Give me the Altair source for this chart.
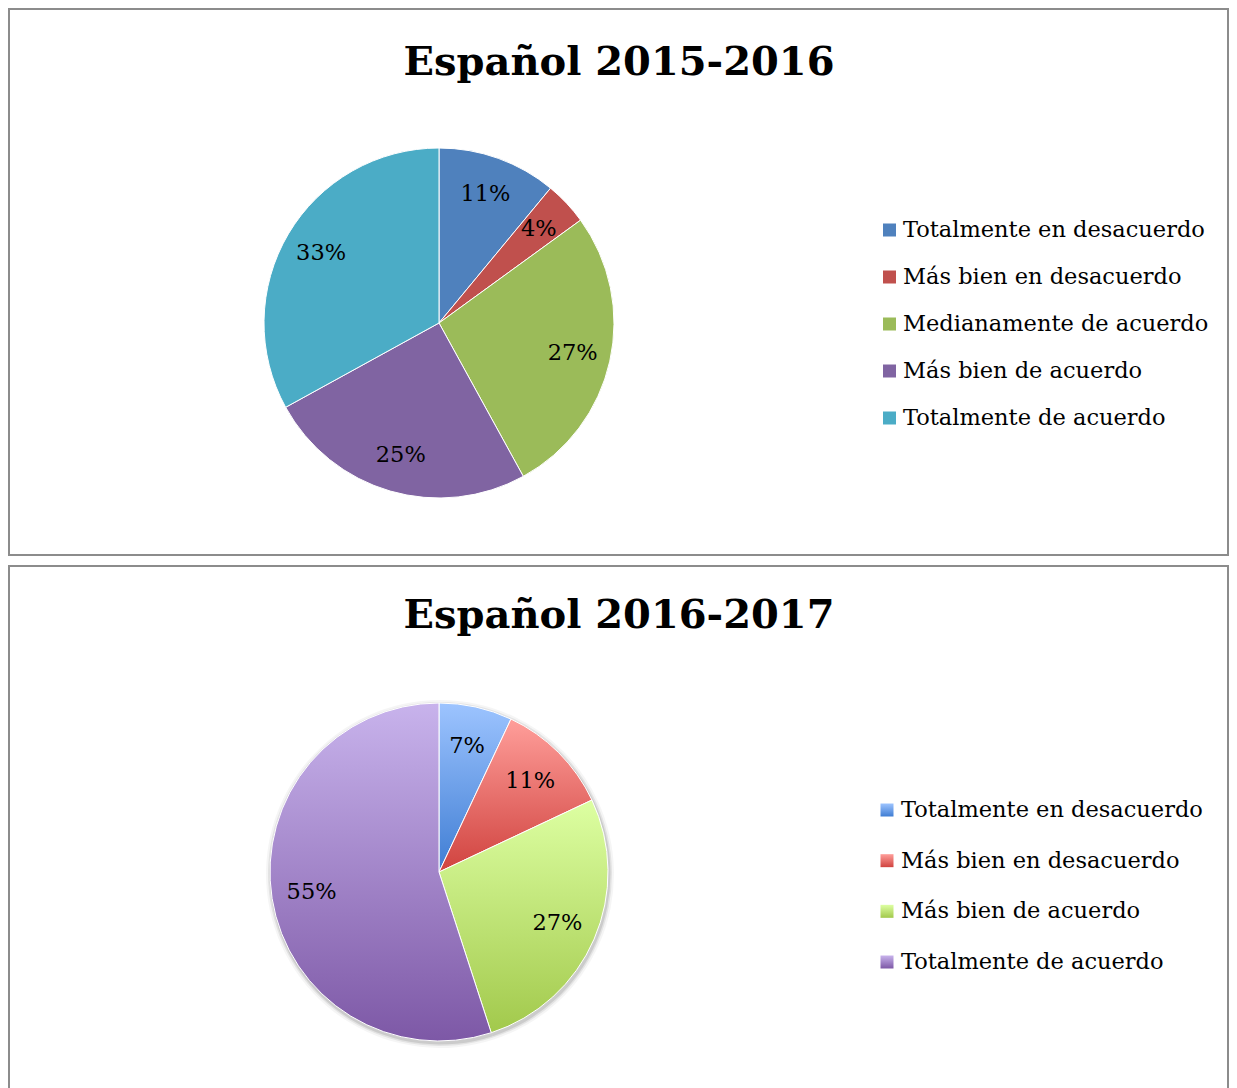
import altair as alt
import pandas as pd

FONT = "DejaVu Serif"

titles = ["Español 2015-2016", "Español 2016-2017"]

cats1 = ["Totalmente en desacuerdo", "Más bien en desacuerdo", "Medianamente de acuerdo",
         "Más bien de acuerdo", "Totalmente de acuerdo"]
vals1 = [11, 4, 27, 25, 33]
colors1 = ["#4F81BD", "#C0504D", "#9BBB59", "#8064A2", "#4BACC6"]

cats2 = ["Totalmente en desacuerdo", "Más bien en desacuerdo", "Más bien de acuerdo",
         "Totalmente de acuerdo"]
vals2 = [7, 11, 27, 55]
grad_top2 = ["#9DC4FF", "#FF9E9A", "#DDFFA2", "#C8B3EC"]
grad_bot2 = ["#3F7DD3", "#D0433F", "#A2C94C", "#7D58A6"]


def grad(top, bot):
    return {"gradient": "linear", "x1": 0, "y1": 0, "x2": 0, "y2": 1,
            "stops": [{"offset": 0, "color": top}, {"offset": 1, "color": bot}]}


def panel(title, cats, vals, fills, radius, label_r, cx, cy, sq_x, tx, ly0, ly1, title_y, shadow):
    df = pd.DataFrame({"cat": cats, "value": vals, "idx": list(range(len(cats)))})
    base = alt.Chart(df).transform_window(
        cum="sum(value)", sort=[alt.SortField("idx")], frame=[None, 0]
    ).transform_calculate(
        start="datum.cum - datum.value",
        mid="datum.cum - datum.value / 2",
        label="datum.value + '%'",
    )
    tscale = alt.Scale(domain=[0, sum(vals)])
    layers = []
    if shadow:
        for dr, op in [(5, 0.04), (3, 0.07), (1.5, 0.1)]:
            layers.append(
                base.mark_arc(outerRadius=radius + dr, fill="#000000", opacity=op, strokeWidth=0)
                .encode(theta=alt.Theta("start:Q", scale=tscale), theta2=alt.Theta2("cum:Q"),
                        x=alt.value(cx + 1), y=alt.value(cy + 2))
            )
    for i, c in enumerate(cats):
        layers.append(
            base.transform_filter(alt.datum.idx == i)
            .mark_arc(outerRadius=radius, fill=fills[i], stroke="white", strokeWidth=1)
            .encode(theta=alt.Theta("start:Q", scale=tscale), theta2=alt.Theta2("cum:Q"),
                    x=alt.value(cx), y=alt.value(cy))
        )
    layers.append(
        base.mark_text(radius=label_r, font=FONT, fontSize=22.5, color="black",
                       align="center", baseline="middle")
        .encode(theta=alt.Theta("mid:Q", scale=tscale, stack=False), text="label:N",
                x=alt.value(cx), y=alt.value(cy))
    )
    yscale = alt.Scale(type="point", domain=cats, range=[ly0, ly1], padding=0)
    leg = alt.Chart(df)
    for i, c in enumerate(cats):
        layers.append(
            leg.transform_filter(alt.datum.idx == i)
            .mark_square(size=169, fill=fills[i], opacity=1, strokeWidth=0)
            .encode(y=alt.Y("cat:N", scale=yscale, axis=None), x=alt.value(sq_x))
        )
    layers.append(
        leg.mark_text(align="left", baseline="middle", font=FONT, fontSize=22.5, color="black")
        .encode(y=alt.Y("cat:N", scale=yscale, axis=None), text="cat:N", x=alt.value(tx))
    )
    layers.append(
        alt.Chart(pd.DataFrame({"t": [title]}))
        .mark_text(font=FONT, fontSize=40, fontWeight="bold", align="center",
                   baseline="alphabetic", color="black")
        .encode(text="t:N", x=alt.value(610), y=alt.value(title_y))
    )
    return alt.layer(*layers).properties(width=1219, height=546)


top = panel(titles[0], cats1, vals1, colors1, 175, 137, 430, 314, 880.5, 894, 221, 409, 66, False)
bottom = panel(titles[1], cats2, vals2, [grad(a, b) for a, b in zip(grad_top2, grad_bot2)],
               169, 129, 430, 306, 878, 892, 244, 396, 62, True)

chart = alt.vconcat(top, bottom, spacing=9).resolve_scale(
    theta="independent", y="independent"
).configure_view(stroke="#8c8c8c", strokeWidth=2).properties(
    padding={"left": 0, "top": 0, "right": 0, "bottom": 0}, background="white"
)

chart.save("out.html", embed_options={"renderer": "svg", "actions": False})
